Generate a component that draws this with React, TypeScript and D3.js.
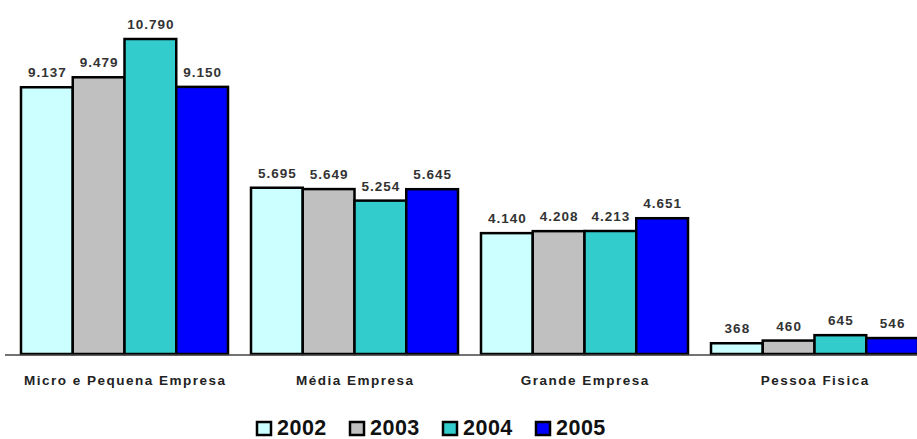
import React from "react";
import * as d3 from "d3";

const categories = ["Micro e Pequena Empresa", "Média Empresa", "Grande Empresa", "Pessoa Fisica"];
const years = ["2002", "2003", "2004", "2005"];
const values2002 = [9137, 5695, 4140, 368];
const values2003 = [9479, 5649, 4208, 460];
const values2004 = [10790, 5254, 4213, 645];
const values2005 = [9150, 5645, 4651, 546];
const seriesValues = [values2002, values2003, values2004, values2005];
const colors = ["#ccffff", "#c0c0c0", "#33cccc", "#0000ff"];

const W = 917;
const H = 439;
const baseY = 354;

const locale = d3.formatLocale({ decimal: ",", thousands: ".", grouping: [3], currency: ["R$", ""] });
const fmt = locale.format(",d");

export default function App() {
  const x0 = d3.scaleBand<string>().domain(categories).range([9.5, 929.5]).paddingInner(0.1).paddingOuter(0.05);
  const x1 = d3.scaleBand<string>().domain(years).range([0, x0.bandwidth()]).padding(0);
  const y = d3.scaleLinear().domain([0, 10790]).range([baseY, 39]);

  return (
    <svg width={W} height={H} style={{ position: "absolute", left: 0, top: 0, background: "#fff" }} fontFamily="Arial, 'Liberation Sans', sans-serif">
      <rect x={0} y={0} width={W} height={H} fill="#fff" />
      {categories.map((c, ci) => (
        <g key={c} transform={`translate(${x0(c)},0)`}>
          {years.map((yr, si) => {
            const v = seriesValues[si][ci];
            const bx = x1(yr)!;
            const top = y(v);
            return (
              <g key={yr}>
                <rect x={bx} y={top} width={x1.bandwidth()} height={baseY - top} fill={colors[si]} stroke="#000" strokeWidth={2.5} />
                <text x={bx + x1.bandwidth() / 2 + 0.5} y={top - 10} textAnchor="middle" fontSize={13.5} fontWeight="bold" letterSpacing={1} fill="#333">
                  {fmt(v)}
                </text>
              </g>
            );
          })}
          <text x={x0.bandwidth() / 2 + 0.75} y={384.5} textAnchor="middle" fontSize={13.5} fontWeight="bold" letterSpacing={1.5} fill="#222">
            {c}
          </text>
        </g>
      ))}
      <line x1={5} x2={W} y1={baseY + 1} y2={baseY + 1} stroke="#444" strokeWidth={1.5} />
      {years.map((yr, i) => (
        <g key={yr} transform={`translate(${256 + i * 93},0)`}>
          <rect x={1} y={422} width={14} height={13} fill={colors[i]} stroke="#000" strokeWidth={2.5} />
          <text x={21} y={434.5} fontSize={21.5} fontWeight="bold" letterSpacing={0.5} fill="#111">
            {yr}
          </text>
        </g>
      ))}
    </svg>
  );
}
